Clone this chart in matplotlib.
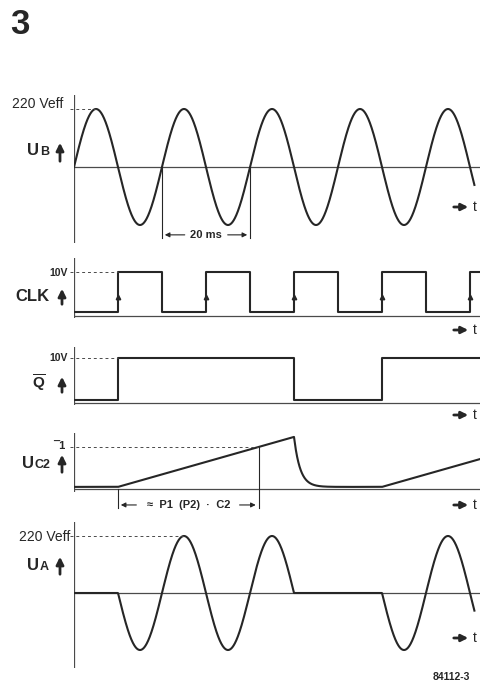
#!/usr/bin/env python3
"""Timing diagram: mains voltage, clock, Q-bar, capacitor voltage and output."""

import matplotlib
import numpy as np

matplotlib.use("Agg")
import matplotlib.pyplot as plt

W, H = 481, 685
AX_LEFT = 74          # pixel x of the vertical axes
PX_PER_MS = 4.4
T_AXIS = (W - AX_LEFT) / PX_PER_MS

INK = "#262626"
AXIS_C = "#4a4a4a"

# --- data (time in ms) ---
PERIOD = 20.0
T_SINE_END = 91.0
ub_peak = 1.0                      # 220 Veff, normalised

clk_times = [0, 10, 20, 30, 40, 50, 60, 70, 80, 90, T_AXIS]
clk_levels = [0.8, 10, 0.8, 10, 0.8, 10, 0.8, 10, 0.8, 10, 10]
clk_rising = [10, 30, 50, 70, 90]

qbar_times = [0, 10, 50, 70, T_AXIS]
qbar_levels = [0.7, 10, 0.7, 10, 10]

uc2_low = 0.05
uc2_peak = 1.24
uc2_ramp_start = [10, 70]
uc2_ramp_stop = 50
uc2_tau = 1.4
uc2_level = 1.0

ua_gates = [(10, 50), (70, T_SINE_END)]

dim_20ms = (20, 40)

plt.rcParams["font.family"] = ["Liberation Sans", "DejaVu Sans"]
plt.rcParams["mathtext.fontset"] = "custom"
plt.rcParams["mathtext.rm"] = "Liberation Sans"
plt.rcParams["mathtext.bf"] = "Liberation Sans:bold"

fig = plt.figure(figsize=(W / 100, H / 100), dpi=100)
fig.patch.set_facecolor("white")


def panel(top, bottom, zero, unit):
    ax = fig.add_axes([AX_LEFT / W, 1 - bottom / H, (W - AX_LEFT) / W, (bottom - top) / H])
    ax.set_xlim(0, T_AXIS)
    ax.set_ylim(-(bottom - zero) / unit, (zero - top) / unit)
    ax.axis("off")
    ax.axvline(0, color=AXIS_C, lw=0.9)
    ax.axhline(0, color=AXIS_C, lw=0.9)
    return ax


def dashed(ax, x1, y):
    ax.plot([-0.9, x1], [y, y], color=AXIS_C, lw=0.7, ls=(0, (3, 3)), clip_on=False)


def dim_arrow(ax, x_from, x_to, y):
    ax.annotate("", xy=(x_to, y), xytext=(x_from, y), annotation_clip=False,
                arrowprops=dict(arrowstyle="-|>", color=INK, lw=0.8, mutation_scale=7))


t = np.linspace(0, T_SINE_END, 2000)
sine = ub_peak * np.sin(2 * np.pi * t / PERIOD)

# --- U_B ---
ax1 = panel(95, 243, 167, 58)
ax1.plot(t, sine, color=INK, lw=1.5)
dashed(ax1, 5, ub_peak)
for x in dim_20ms:
    ax1.plot([x, x], [0, -1.22], color=INK, lw=0.8, clip_on=False)
ax1.text(sum(dim_20ms) / 2, -1.17, "20 ms", ha="center", va="center",
         fontsize=8, fontweight="bold", color=INK)
dim_arrow(ax1, 25.8, dim_20ms[0], -1.17)
dim_arrow(ax1, 34.3, dim_20ms[1], -1.17)

# --- CLK ---
ax2 = panel(258, 318, 316, 4.4)
ax2.step(clk_times, clk_levels, where="post", color=INK, lw=1.5)
ax2.plot(clk_rising, [4.4] * len(clk_rising), ls="none", marker="^",
         ms=3.2, color=INK, clip_on=False)
dashed(ax2, clk_rising[0], 10)

# --- Q bar ---
ax3 = panel(347, 405, 403, 4.5)
ax3.step(qbar_times, qbar_levels, where="post", color=INK, lw=1.5)
dashed(ax3, qbar_times[1], 10)

# --- U_C2 ---
ax4 = panel(433, 492, 489, 42)
slope = (uc2_peak - uc2_low) / (uc2_ramp_stop - uc2_ramp_start[0])
tc = np.linspace(0, T_AXIS, 3000)
uc2 = np.full_like(tc, uc2_low)
m1 = (tc >= uc2_ramp_start[0]) & (tc <= uc2_ramp_stop)
uc2[m1] = uc2_low + slope * (tc[m1] - uc2_ramp_start[0])
m2 = (tc > uc2_ramp_stop) & (tc < uc2_ramp_start[1])
uc2[m2] = uc2_low + (uc2_peak - uc2_low) * np.exp(-(tc[m2] - uc2_ramp_stop) / uc2_tau)
m3 = tc >= uc2_ramp_start[1]
uc2[m3] = uc2_low + slope * (tc[m3] - uc2_ramp_start[1])
ax4.plot(tc, uc2, color=INK, lw=1.5)
t_cross = uc2_ramp_start[0] + (uc2_level - uc2_low) / slope
dashed(ax4, t_cross, uc2_level)
ax4.plot([uc2_ramp_start[0]] * 2, [0, -0.45], color=INK, lw=0.8, clip_on=False)
ax4.plot([t_cross] * 2, [uc2_level, -0.45], color=INK, lw=0.8, clip_on=False)
mid = (uc2_ramp_start[0] + t_cross) / 2
ax4.text(mid, -0.38, "≈  P1  (P2)  ·  C2", ha="center", va="center",
         fontsize=8, fontweight="bold", color=INK, clip_on=False)
dim_arrow(ax4, 14.8, uc2_ramp_start[0], -0.38)
dim_arrow(ax4, 37.0, t_cross, -0.38)

# --- U_A ---
ax5 = panel(522, 668, 593, 57)
gate = np.zeros_like(t)
for a, b in ua_gates:
    gate[(t >= a) & (t <= b)] = 1.0
ax5.plot(t, sine * gate, color=INK, lw=1.5)
dashed(ax5, 25, ub_peak)

# --- labels (pixel overlay) ---
ov = fig.add_axes([0, 0, 1, 1])
ov.set_xlim(0, W)
ov.set_ylim(H, 0)
ov.axis("off")


def up_arrow(x, y0, y1):
    ov.annotate("", xy=(x, y1), xytext=(x, y0),
                arrowprops=dict(arrowstyle="-|>", color=INK, lw=2.0, mutation_scale=11))


def t_arrow(y):
    ov.annotate("", xy=(471, y), xytext=(451, y),
                arrowprops=dict(arrowstyle="-|>", color=INK, lw=2.0, mutation_scale=10))
    ov.text(473, y, "t", ha="left", va="center", fontsize=10, color=INK)


ov.text(10, 24, "3", ha="left", va="center", fontsize=25, fontweight="bold", color=INK)

ov.text(63, 104, "220 Veff", ha="right", va="center", fontsize=10, color=INK)
ov.text(27, 155, "U", ha="left", va="baseline", fontsize=12, fontweight="bold", color=INK)
ov.text(40, 155, "B", ha="left", va="baseline", fontsize=9, fontweight="bold", color=INK)
up_arrow(60, 164, 140)
t_arrow(207)

ov.text(68, 273, "10V", ha="right", va="center", fontsize=7.5, fontweight="bold", color=INK)
ov.text(15, 301, "CLK", ha="left", va="baseline", fontsize=12, fontweight="bold", color=INK)
up_arrow(62, 307, 286)
t_arrow(330)

ov.text(68, 358, "10V", ha="right", va="center", fontsize=7.5, fontweight="bold", color=INK)
ov.text(32, 389, r"$\overline{\mathbf{Q}}$", ha="left", va="baseline",
        fontsize=11, color=INK)
up_arrow(62, 395, 374)
t_arrow(415)

ov.text(65, 446, "¯1", ha="right", va="center", fontsize=8, fontweight="bold", color=INK)
ov.text(22, 468, "U", ha="left", va="baseline", fontsize=12, fontweight="bold", color=INK)
ov.text(35, 468, "C2", ha="left", va="baseline", fontsize=9, fontweight="bold", color=INK)
up_arrow(62, 475, 452)
t_arrow(505)

ov.text(70, 537, "220 Veff", ha="right", va="center", fontsize=10, color=INK)
ov.text(27, 570, "U", ha="left", va="baseline", fontsize=12, fontweight="bold", color=INK)
ov.text(40, 570, "A", ha="left", va="baseline", fontsize=9, fontweight="bold", color=INK)
up_arrow(60, 577, 554)
t_arrow(638)

ov.text(470, 677, "84112-3", ha="right", va="center", fontsize=7.5, fontweight="bold", color=INK)

fig.savefig("out.png", dpi=100, facecolor="white")
